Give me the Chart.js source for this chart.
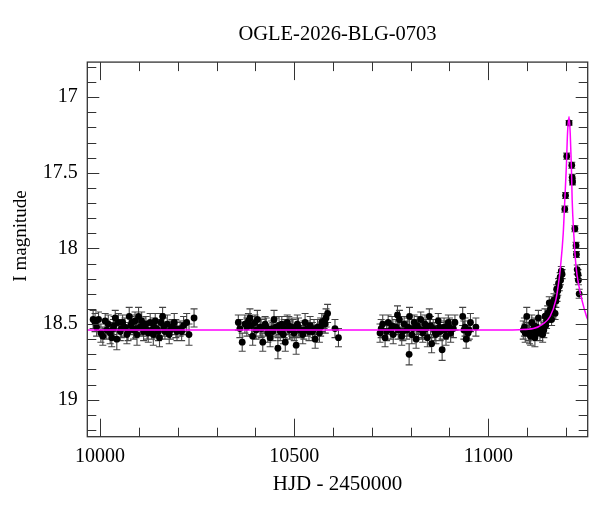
<!DOCTYPE html>
<html>
<head>
<meta charset="utf-8">
<script src="https://cdn.jsdelivr.net/npm/chart.js@4.4.1/dist/chart.umd.min.js"></script>
<style>
  html, body { margin: 0; padding: 0; background: #fff; }
  #wrap { width: 600px; height: 512px; }
</style>
</head>
<body>
<div id="wrap"><canvas id="lc" width="600" height="512"></canvas></div>
<script>
// photometry, one array per observing season: [HJD-2450000, I mag, error]
const season1 = [
  [9982, 18.47, 0.06], [9987, 18.49, 0.06], [9991, 18.52, 0.06], [9996, 18.47, 0.05],
  [10002, 18.56, 0.06], [10007, 18.58, 0.06], [10013, 18.48, 0.05], [10017, 18.54, 0.06],
  [10021, 18.50, 0.06], [10026, 18.56, 0.07], [10030, 18.59, 0.06], [10034, 18.53, 0.06],
  [10036, 18.51, 0.06], [10039, 18.46, 0.05], [10043, 18.60, 0.07], [10047, 18.49, 0.06],
  [10052, 18.55, 0.06], [10055, 18.53, 0.06], [10058, 18.49, 0.05], [10064, 18.52, 0.06],
  [10069, 18.57, 0.06], [10072, 18.55, 0.06], [10075, 18.45, 0.06], [10079, 18.51, 0.06],
  [10082, 18.49, 0.05], [10086, 18.54, 0.06], [10090, 18.48, 0.06], [10092, 18.53, 0.06],
  [10095, 18.57, 0.07], [10099, 18.45, 0.06], [10103, 18.52, 0.05], [10107, 18.48, 0.06],
  [10110, 18.52, 0.06], [10112, 18.55, 0.06], [10118, 18.50, 0.05], [10121, 18.54, 0.06],
  [10124, 18.56, 0.06], [10129, 18.49, 0.06], [10133, 18.54, 0.06], [10137, 18.57, 0.07],
  [10139, 18.52, 0.06], [10142, 18.48, 0.05], [10146, 18.53, 0.06], [10150, 18.55, 0.06],
  [10153, 18.59, 0.06], [10157, 18.49, 0.06], [10161, 18.45, 0.06], [10164, 18.52, 0.06],
  [10167, 18.55, 0.05], [10173, 18.50, 0.06], [10178, 18.57, 0.06], [10181, 18.54, 0.06],
  [10185, 18.52, 0.05], [10191, 18.49, 0.06], [10195, 18.53, 0.06], [10198, 18.55, 0.06],
  [10206, 18.53, 0.05], [10210, 18.55, 0.06], [10215, 18.51, 0.06], [10223, 18.49, 0.06],
  [10229, 18.57, 0.07], [10242, 18.46, 0.06]
];
const season2 = [
  [10356, 18.49, 0.05], [10360, 18.53, 0.06], [10366, 18.62, 0.06], [10373, 18.50, 0.06],
  [10378, 18.52, 0.06], [10382, 18.48, 0.05], [10386, 18.46, 0.06], [10390, 18.51, 0.06],
  [10393, 18.58, 0.06], [10399, 18.49, 0.05], [10402, 18.54, 0.06], [10405, 18.47, 0.06],
  [10412, 18.52, 0.06], [10415, 18.53, 0.06], [10419, 18.62, 0.06], [10425, 18.50, 0.05],
  [10428, 18.52, 0.06], [10432, 18.56, 0.06], [10438, 18.59, 0.06], [10442, 18.53, 0.05],
  [10445, 18.55, 0.06], [10448, 18.47, 0.06], [10453, 18.52, 0.06], [10458, 18.66, 0.07],
  [10461, 18.51, 0.06], [10464, 18.55, 0.06], [10468, 18.50, 0.05], [10472, 18.57, 0.06],
  [10474, 18.53, 0.06], [10477, 18.62, 0.06], [10482, 18.49, 0.05], [10486, 18.51, 0.06],
  [10488, 18.54, 0.06], [10494, 18.52, 0.06], [10497, 18.53, 0.06], [10500, 18.56, 0.05],
  [10505, 18.64, 0.06], [10508, 18.50, 0.06], [10511, 18.52, 0.06], [10515, 18.54, 0.05],
  [10522, 18.57, 0.06], [10525, 18.54, 0.06], [10528, 18.49, 0.06], [10534, 18.53, 0.05],
  [10538, 18.55, 0.06], [10541, 18.51, 0.06], [10547, 18.55, 0.06], [10551, 18.53, 0.06],
  [10554, 18.60, 0.06], [10560, 18.52, 0.05], [10565, 18.56, 0.06], [10568, 18.52, 0.06],
  [10571, 18.49, 0.06], [10577, 18.48, 0.05], [10580, 18.50, 0.06], [10582, 18.46, 0.06],
  [10586, 18.43, 0.06], [10605, 18.53, 0.06], [10614, 18.59, 0.06]
];
const season3 = [
  [10721, 18.56, 0.06], [10724, 18.53, 0.06], [10728, 18.50, 0.06], [10734, 18.59, 0.06],
  [10738, 18.55, 0.06], [10742, 18.49, 0.05], [10749, 18.54, 0.06], [10752, 18.51, 0.06],
  [10755, 18.57, 0.06], [10762, 18.52, 0.05], [10766, 18.44, 0.06], [10768, 18.54, 0.06],
  [10771, 18.47, 0.06], [10777, 18.58, 0.06], [10780, 18.55, 0.06], [10783, 18.50, 0.05],
  [10790, 18.54, 0.06], [10793, 18.52, 0.06], [10796, 18.70, 0.07], [10797, 18.45, 0.06],
  [10803, 18.57, 0.06], [10806, 18.53, 0.06], [10809, 18.49, 0.05], [10814, 18.60, 0.06],
  [10817, 18.51, 0.06], [10820, 18.53, 0.06], [10826, 18.47, 0.05], [10829, 18.54, 0.06],
  [10831, 18.56, 0.06], [10837, 18.50, 0.06], [10840, 18.53, 0.06], [10843, 18.59, 0.06],
  [10848, 18.45, 0.05], [10851, 18.51, 0.06], [10854, 18.63, 0.06], [10858, 18.53, 0.06],
  [10862, 18.55, 0.06], [10865, 18.57, 0.06], [10871, 18.48, 0.05], [10874, 18.52, 0.06],
  [10876, 18.55, 0.06], [10881, 18.67, 0.07], [10886, 18.52, 0.06], [10889, 18.54, 0.06],
  [10891, 18.58, 0.06], [10897, 18.49, 0.05], [10900, 18.52, 0.06], [10903, 18.56, 0.06],
  [10910, 18.53, 0.06], [10914, 18.49, 0.05], [10934, 18.45, 0.06], [10937, 18.54, 0.06],
  [10940, 18.52, 0.06], [10943, 18.60, 0.06], [10948, 18.56, 0.05], [10951, 18.54, 0.06],
  [10954, 18.49, 0.06], [10968, 18.52, 0.06]
];
const season4 = [
  [11090, 18.54, 0.06], [11093, 18.52, 0.06], [11095, 18.56, 0.06], [11099, 18.45, 0.06],
  [11103, 18.55, 0.06], [11106, 18.57, 0.06], [11109, 18.58, 0.06], [11112, 18.49, 0.05],
  [11116, 18.54, 0.06], [11118, 18.51, 0.05], [11120, 18.59, 0.06], [11123, 18.56, 0.05],
  [11125, 18.52, 0.05], [11129, 18.46, 0.05], [11133, 18.56, 0.05], [11136, 18.53, 0.05],
  [11140, 18.57, 0.05], [11143, 18.54, 0.05], [11146, 18.45, 0.05], [11148, 18.51, 0.05],
  [11150, 18.48, 0.05], [11153, 18.43, 0.05], [11155, 18.45, 0.04], [11157, 18.36, 0.04],
  [11159, 18.41, 0.04], [11161, 18.40, 0.04], [11163, 18.47, 0.04], [11166, 18.38, 0.04],
  [11167, 18.42, 0.04], [11169, 18.34, 0.04], [11172, 18.43, 0.04], [11174, 18.35, 0.04],
  [11176, 18.27, 0.03], [11177, 18.32, 0.03], [11179, 18.28, 0.03], [11181, 18.23, 0.03],
  [11183, 18.25, 0.03], [11185, 18.19, 0.03], [11186, 18.21, 0.03], [11188, 18.15, 0.03],
  [11190, 18.17, 0.03], [11197, 17.74, 0.02], [11199, 17.65, 0.02], [11202, 17.39, 0.02],
  [11208, 17.17, 0.015], [11215, 17.45, 0.02], [11216, 17.53, 0.02], [11217, 17.56, 0.02],
  [11223, 17.87, 0.02], [11226, 17.98, 0.02], [11227, 18.04, 0.02], [11229, 18.14, 0.03],
  [11231, 18.17, 0.03], [11232, 18.21, 0.03], [11234, 18.30, 0.03]
];

// model light curve
const modelHjd = [9967, 10500, 11000, 11080, 11116, 11140, 11159, 11174, 11181, 11186, 11193, 11197,
  11201, 11204, 11208, 11211, 11214, 11216, 11220, 11226, 11232, 11241, 11253, 11256];
const modelMag = [18.54, 18.54, 18.54, 18.537, 18.53, 18.50, 18.45, 18.34, 18.23, 18.12, 17.90, 17.68,
  17.46, 17.24, 17.13, 17.24, 17.46, 17.68, 17.90, 18.12, 18.23, 18.34, 18.45, 18.47];

const xTickVals = [10000, 10500, 11000];
const yTickVals = [17, 17.5, 18, 18.5, 19];
const xRange = [9967, 11256];
const yRange = [16.768, 19.245];

const titleText = 'OGLE-2026-BLG-0703';
const xTitle = 'HJD - 2450000';
const yTitle = 'I magnitude';
const serif = '"Liberation Serif", "DejaVu Serif", serif';

const allObs = season1.concat(season2, season3, season4);

// error bars under the dots
const errorBars = {
  id: 'errorBars',
  beforeDatasetsDraw(chart) {
    const ctx = chart.ctx, a = chart.chartArea;
    const xs = chart.scales.x, ys = chart.scales.y;
    ctx.save();
    ctx.beginPath();
    ctx.rect(a.left, a.top, a.right - a.left, a.bottom - a.top);
    ctx.clip();
    ctx.strokeStyle = '#444';
    ctx.lineWidth = 1.1;
    ctx.beginPath();
    allObs.forEach(p => {
      const px = xs.getPixelForValue(p[0]);
      const y1 = ys.getPixelForValue(p[1] - p[2]);
      const y2 = ys.getPixelForValue(p[1] + p[2]);
      ctx.moveTo(px, y1); ctx.lineTo(px, y2);
      ctx.moveTo(px - 3.5, y1); ctx.lineTo(px + 3.5, y1);
      ctx.moveTo(px - 3.5, y2); ctx.lineTo(px + 3.5, y2);
    });
    ctx.stroke();
    ctx.restore();
  }
};

// box frame with inward ticks on all four sides, plus the y title
const frameTicks = {
  id: 'frameTicks',
  afterDraw(chart) {
    const ctx = chart.ctx, a = chart.chartArea;
    const xs = chart.scales.x, ys = chart.scales.y;
    ctx.save();
    ctx.strokeStyle = '#333';
    ctx.lineWidth = 1;
    ctx.beginPath();
    for (let v = 10000; v <= 11200; v += 100) {
      const px = Math.round(xs.getPixelForValue(v)) + 0.5;
      const len = v % 500 === 0 ? 18 : 9;
      ctx.moveTo(px, a.bottom); ctx.lineTo(px, a.bottom - len);
      ctx.moveTo(px, a.top); ctx.lineTo(px, a.top + len);
    }
    for (let i = 168; i <= 192; i++) {
      const py = Math.round(ys.getPixelForValue(i / 10)) + 0.5;
      const len = i % 5 === 0 ? 12 : 9;
      ctx.moveTo(a.left, py); ctx.lineTo(a.left + len, py);
      ctx.moveTo(a.right, py); ctx.lineTo(a.right - len, py);
    }
    ctx.stroke();
    ctx.lineWidth = 1.3;
    ctx.strokeRect(a.left, a.top, a.right - a.left, a.bottom - a.top);

    ctx.fillStyle = '#000';
    ctx.font = '19px ' + serif;
    ctx.textAlign = 'center';
    ctx.textBaseline = 'middle';
    ctx.translate(21, 236);
    ctx.rotate(-Math.PI / 2);
    ctx.fillText(yTitle, 0, 0);
    ctx.restore();
  }
};

const ctx = document.getElementById('lc').getContext('2d');
new Chart(ctx, {
  type: 'scatter',
  data: {
    datasets: [
      {
        label: 'model',
        data: modelHjd.map((d, i) => ({ x: d, y: modelMag[i] })),
        showLine: true,
        borderColor: '#ff00ff',
        borderWidth: 1.5,
        pointRadius: 0,
        cubicInterpolationMode: 'monotone',
        order: 0
      },
      {
        label: 'OGLE',
        data: allObs.map(p => ({ x: p[0], y: p[1] })),
        backgroundColor: '#000',
        borderColor: '#000',
        borderWidth: 0,
        pointRadius: 3.4,
        order: 1
      }
    ]
  },
  options: {
    responsive: false,
    animation: false,
    layout: { padding: { left: 0, right: 12.3, top: 0, bottom: 0 } },
    plugins: {
      legend: { display: false },
      tooltip: { enabled: false },
      title: {
        display: true,
        text: titleText,
        fullSize: false,
        color: '#000',
        font: { family: serif, size: 20.5, weight: 'normal' },
        padding: { top: 22, bottom: 15.5 }
      }
    },
    scales: {
      x: {
        type: 'linear',
        min: xRange[0],
        max: xRange[1],
        grid: { display: false, drawTicks: false },
        border: { display: false },
        afterBuildTicks: s => { s.ticks = xTickVals.map(v => ({ value: v })); },
        afterFit: s => { s.height = 75.3; },
        ticks: {
          color: '#000',
          padding: 8,
          maxRotation: 0,
          font: { family: serif, size: 20 },
          callback: v => String(v)
        },
        title: {
          display: true,
          text: xTitle,
          color: '#000',
          font: { family: serif, size: 21 },
          padding: { top: 0, bottom: 15.4 }
        }
      },
      y: {
        type: 'linear',
        reverse: true,
        min: yRange[0],
        max: yRange[1],
        grid: { display: false, drawTicks: false },
        border: { display: false },
        afterBuildTicks: s => { s.ticks = yTickVals.map(v => ({ value: v })); },
        afterFit: s => { s.width = 87.3; },
        ticks: {
          color: '#000',
          padding: 9.6,
          font: { family: serif, size: 20 },
          callback: v => String(v)
        }
      }
    }
  },
  plugins: [errorBars, frameTicks]
});
</script>
</body>
</html>
